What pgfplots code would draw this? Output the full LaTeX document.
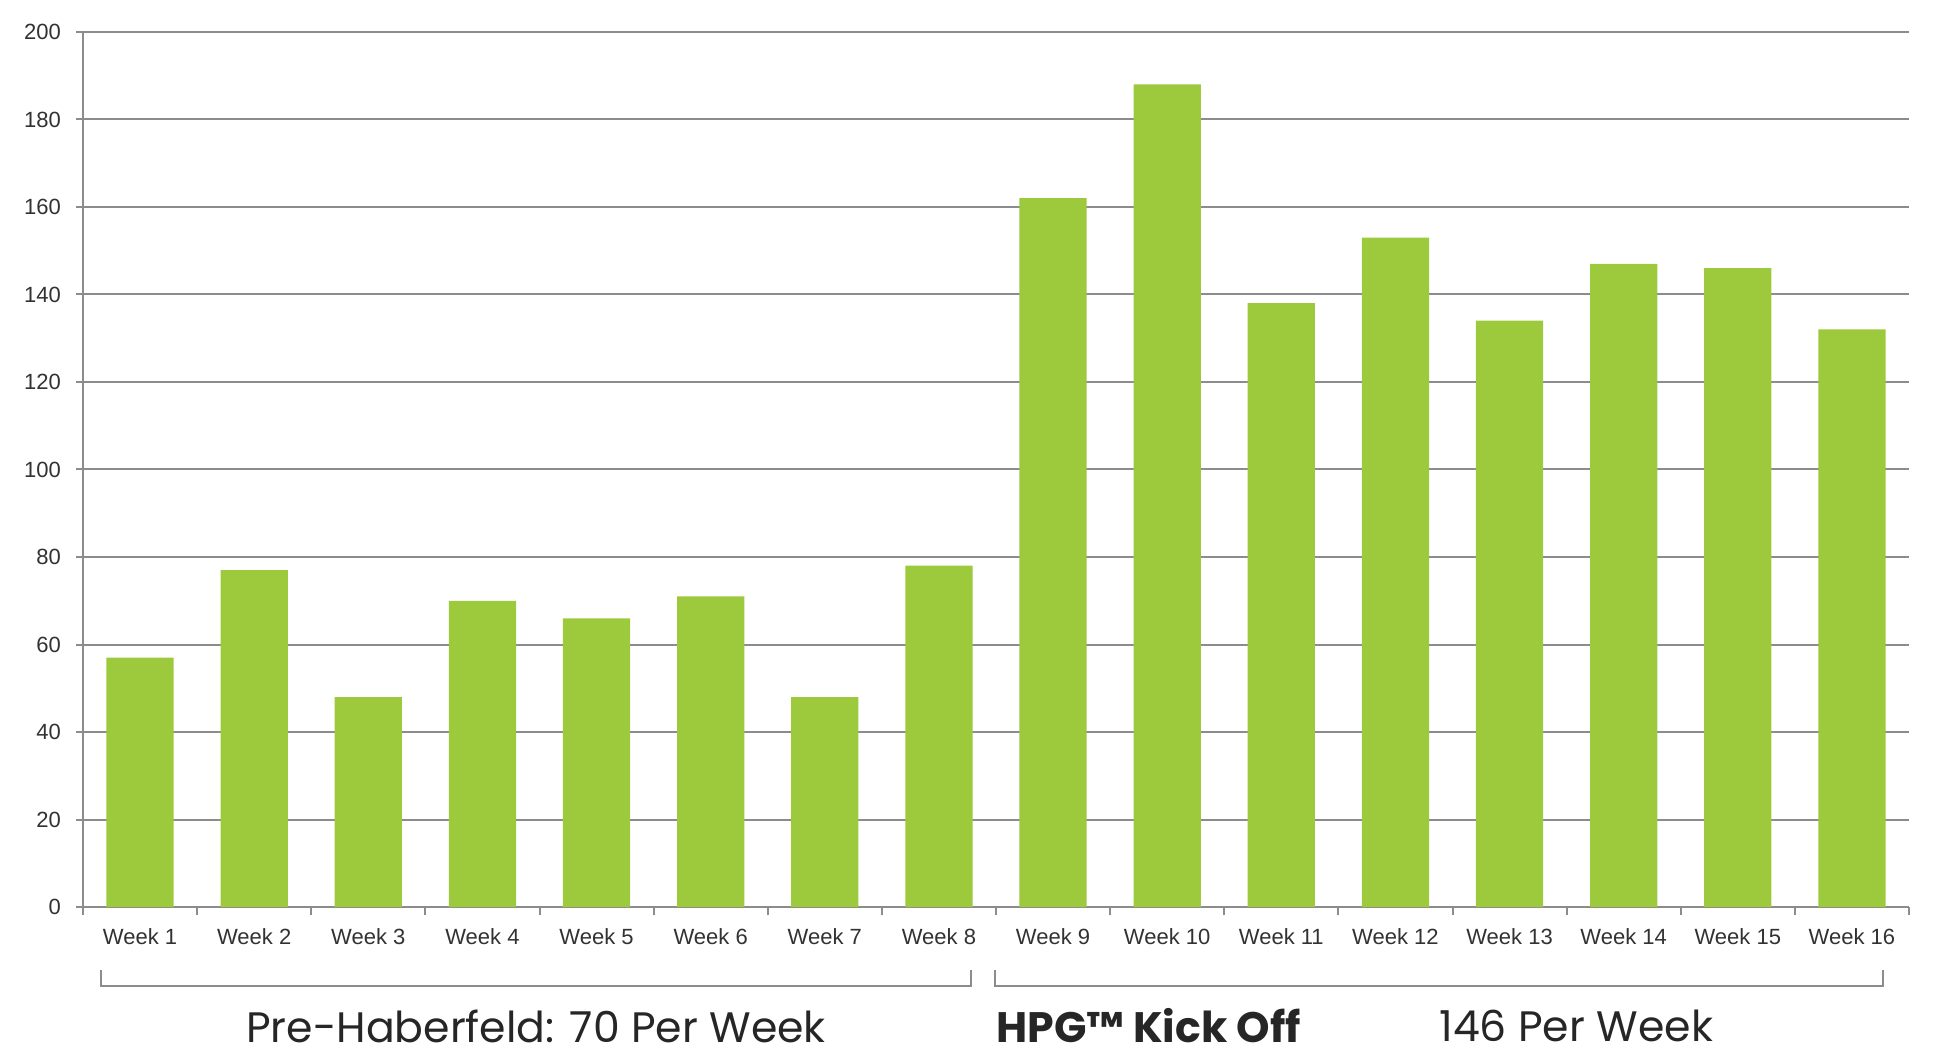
\documentclass[border=0pt]{standalone}
\usepackage{pgfplots}
\pgfplotsset{compat=1.18}
\usepackage{fontspec}
\setmainfont{Liberation Sans}
\newfontfamily\popfont{Poppins}
\definecolor{bargreen}{RGB}{157,201,60}
\definecolor{gridgray}{RGB}{140,140,140}
\definecolor{txtgray}{RGB}{50,50,50}
\begin{document}
\begin{tikzpicture}
\useasboundingbox (0,0) rectangle (970pt,531pt);
\begin{axis}[
  at={(41.5pt,77.5pt)}, anchor=south west,
  scale only axis, width=913pt, height=437.5pt,
  xmin=-0.5, xmax=15.5, ymin=0, ymax=200,
  ytick={0,20,...,200},
  xtick={0,...,15},
  xticklabels={Week 1,Week 2,Week 3,Week 4,Week 5,Week 6,Week 7,Week 8,Week 9,Week 10,Week 11,Week 12,Week 13,Week 14,Week 15,Week 16},
  minor xtick={-0.5,0.5,...,15.5},
  major x tick style={draw=none},
  minor x tick style={gridgray, line width=1pt},
  y tick style={gridgray, line width=1pt},
  tick align=outside,
  major tick length=3.5pt, minor tick length=4pt,
  axis x line*=bottom, axis y line*=left,
  axis line style={gridgray, line width=1.2pt},
  ymajorgrids, major grid style={gridgray, line width=1pt},
  ticklabel style={font=\fontsize{11}{13}\selectfont, text=txtgray},
  yticklabel style={xshift=-4pt},
  xticklabel style={yshift=-3.5pt},
  /pgf/number format/assume math mode=true,
  ybar, bar width=0.59,
]
\addplot[fill=bargreen, draw=none] coordinates {
 (0,57) (1,77) (2,48) (3,70) (4,66) (5,71) (6,48) (7,78)
 (8,162) (9,188) (10,138) (11,153) (12,134) (13,147) (14,146) (15,132)
};
\end{axis}
\draw[gridgray, line width=1.3pt] (50.5pt,46pt) -- (50.5pt,38pt) -- (485.5pt,38pt) -- (485.5pt,46pt);
\draw[gridgray, line width=1.3pt] (497.5pt,46pt) -- (497.5pt,38pt) -- (941.5pt,38pt) -- (941.5pt,46pt);
\node[font=\popfont\fontsize{21.3}{24}\selectfont, text=black!85, anchor=center] at (268pt,18pt) {Pre-Haberfeld: 70 Per Week};
\node[font=\popfont\bfseries\fontsize{21.3}{24}\selectfont, text=black!85, anchor=west, inner sep=0pt] at (498pt,18pt) {HPG™ Kick Off};
\node[font=\popfont\fontsize{21.3}{24}\selectfont, text=black!85, anchor=west, inner sep=0pt] at (719.5pt,18pt) {146 Per Week};
\end{tikzpicture}
\end{document}
